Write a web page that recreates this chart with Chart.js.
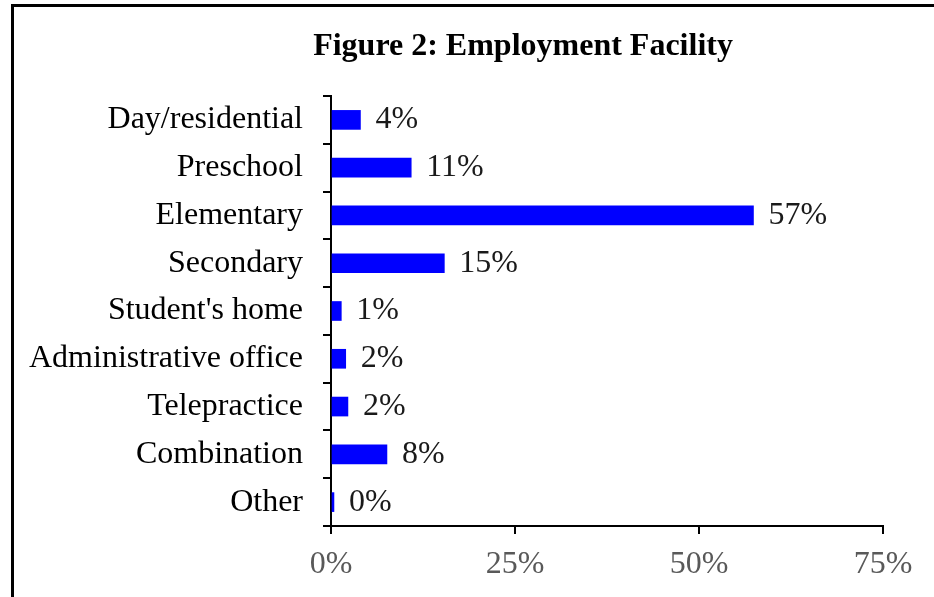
<!DOCTYPE html>
<html>
<head>
<meta charset="utf-8">
<script src="https://cdn.jsdelivr.net/npm/chart.js@4/dist/chart.umd.min.js"></script>
<style>
  html, body { margin: 0; padding: 0; background: #fff; }
  #wrap { position: relative; width: 934px; height: 597px; overflow: hidden; }
  #frame { position: absolute; left: 11px; top: 4px; width: 1000px; height: 700px;
           border-left: 3px solid #000; border-top: 3px solid #000; pointer-events: none; }
  canvas { position: absolute; left: 0; top: 0; }
</style>
</head>
<body>
<div id="wrap">
  <canvas id="c" width="934" height="597"></canvas>
  <div id="frame"></div>
</div>
<script>
const categories = ["Day/residential", "Preschool", "Elementary", "Secondary", "Student's home",
                    "Administrative office", "Telepractice", "Combination", "Other"];
const shares = [4.0, 10.9, 57.4, 15.4, 1.4, 2.0, 2.3, 7.6, 0.4];
const xTicks = [0, 25, 50, 75];
const chartTitle = "Figure 2: Employment Facility";

const serif = "'Liberation Serif', 'Times New Roman', serif";

const valueLabels = {
  id: 'valueLabels',
  afterDatasetsDraw(chart) {
    const ctx = chart.ctx;
    const meta = chart.getDatasetMeta(0);
    ctx.save();
    ctx.font = "32px " + serif;
    ctx.fillStyle = "#1a1a1a";
    ctx.textAlign = "left";
    ctx.textBaseline = "middle";
    meta.data.forEach((bar, i) => {
      const v = chart.data.datasets[0].data[i];
      ctx.fillText(Math.round(v) + "%", bar.x + 15, bar.y);
    });
    ctx.restore();
  }
};

const titleDraw = {
  id: 'titleDraw',
  afterDraw(chart) {
    const ctx = chart.ctx;
    ctx.save();
    ctx.font = "bold 32px " + serif;
    ctx.fillStyle = "#000";
    ctx.textAlign = "center";
    ctx.textBaseline = "alphabetic";
    ctx.fillText(chartTitle, chart.width * 0.56, 55);
    ctx.restore();
  }
};

new Chart(document.getElementById('c'), {
  type: 'bar',
  data: {
    labels: categories,
    datasets: [{
      data: shares,
      backgroundColor: '#0000ff',
      borderWidth: 0,
      barThickness: 19
    }]
  },
  options: {
    indexAxis: 'y',
    responsive: false,
    animation: false,
    devicePixelRatio: 1,
    layout: { padding: { top: 96, right: 51, left: 0, bottom: 0 } },
    plugins: {
      legend: { display: false },
      tooltip: { enabled: false },
      title: { display: false }
    },
    scales: {
      x: {
        type: 'linear',
        min: 0, max: 75,
        afterBuildTicks(scale) { scale.ticks = xTicks.map(v => ({ value: v })); },
        afterFit(scale) { scale.height = 71; },
        border: { display: true, color: '#000', width: 2 },
        grid: { display: true, drawOnChartArea: false, drawTicks: true, tickLength: 8, color: '#000', lineWidth: 2 },
        ticks: {
          color: '#595959',
          padding: 11,
          font: { family: serif, size: 32 },
          callback: v => v + '%'
        }
      },
      y: {
        afterFit(scale) { scale.width = 331; },
        border: { display: true, color: '#000', width: 2 },
        grid: { display: true, offset: true, drawOnChartArea: false, drawTicks: true, tickLength: 8, color: '#000', lineWidth: 2 },
        ticks: {
          color: '#000',
          padding: 20,
          font: { family: serif, size: 32 }
        }
      }
    }
  },
  plugins: [valueLabels, titleDraw]
});
</script>
</body>
</html>
